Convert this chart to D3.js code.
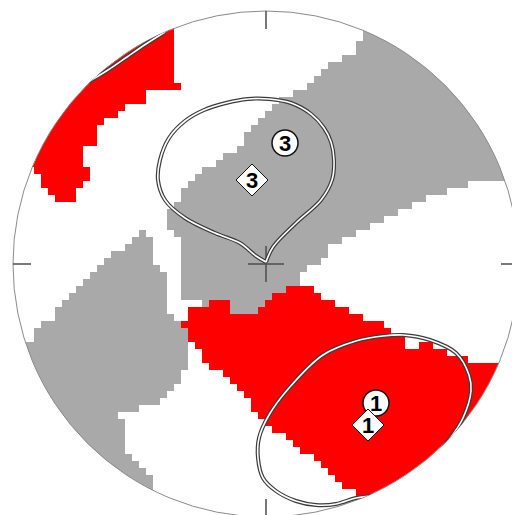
<!DOCTYPE html>
<html>
<head>
<meta charset="utf-8">
<script src="https://cdn.jsdelivr.net/npm/d3@7"></script>
<style>
  html, body { margin: 0; padding: 0; background: #fff; }
  svg { display: block; }
</style>
</head>
<body>
<div id="chart"></div>
<script>
// net coordinates: primitive circle radius R, x to the east, y to the north
const R = 253;
const CELL = 7;

// density zones (outline vertices, net units)
const redUpperLeft = [
  [-96,259],[-93,224],[-90,204],[-88,176],[-119,172],[-121,164],[-141,156],[-156,146],
  [-166,139],[-168,124],[-181,114],[-183,101],[-178,96],[-178,86],[-184,78],[-193,71],
  [-193,61],[-211,61],[-214,69],[-221,76],[-228,86],[-236,96],[-256,104],[-226,204],[-146,254]
];
const redLower = [
  [-71,-41],[-39,-38],[-34,-48],[-16,-54],[-8,-48],[0,-38],[12,-30],[22,-24],[43,-24],
  [47,-27],[52,-31],[62,-34],[68,-39],[75,-42],[80,-44],[90,-49],[98,-54],[105,-57],
  [113,-59],[118,-62],[127,-64],[127,-71],[137,-72],[137,-76],[142,-77],[142,-82],
  [153,-82],[162,-79],[170,-84],[175,-87],[187,-89],[193,-94],[203,-96],[217,-97],
  [220,-101],[233,-98],[254,-96],[134,-266],[92,-241],[90,-234],[87,-227],[73,-224],
  [72,-214],[62,-209],[57,-202],[52,-199],[45,-192],[38,-187],[33,-182],[25,-179],
  [20,-174],[13,-169],[8,-164],[0,-157],[-10,-149],[-14,-142],[-19,-134],[-31,-124],
  [-39,-116],[-49,-107],[-59,-99],[-66,-89],[-73,-82],[-81,-77],[-83,-61],[-78,-52]
];
const grayBand = [
  [96,244],[98,227],[90,221],[87,209],[70,204],[60,196],[50,187],[40,178],[28,169],
  [17,164],[7,154],[-3,149],[-10,137],[-23,127],[-26,117],[-38,109],[-49,101],[-59,97],
  [-68,91],[-76,82],[-85,67],[-96,54],[-96,31],[-89,27],[-84,21],[-86,8],[-88,6],
  [-88,-34],[-63,-34],[-63,-40],[-39,-38],[-34,-48],[-16,-54],[-8,-48],[0,-38],[12,-30],
  [22,-24],[33,-17],[33,-11],[43,-9],[45,-2],[52,1],[53,6],[62,8],[63,16],[70,19],
  [77,22],[83,26],[90,31],[97,34],[105,37],[110,42],[117,44],[123,49],[133,52],[140,57],
  [147,61],[157,64],[160,67],[170,71],[180,72],[187,77],[203,79],[207,82],[238,84],
  [264,89],[254,164],[174,264]
];
const grayLeft = [
  [-129,31],[-119,31],[-118,26],[-111,24],[-111,1],[-103,-1],[-103,-6],[-98,-9],
  [-98,-27],[-106,-27],[-106,-30],[-99,-31],[-99,-49],[-93,-51],[-89,-56],[-84,-61],
  [-81,-66],[-81,-81],[-76,-82],[-76,-102],[-81,-104],[-84,-114],[-88,-122],[-93,-124],
  [-93,-129],[-103,-131],[-104,-137],[-118,-141],[-121,-144],[-133,-146],[-136,-147],
  [-146,-149],[-146,-157],[-141,-159],[-141,-187],[-136,-191],[-134,-196],[-128,-197],
  [-126,-202],[-121,-204],[-119,-209],[-114,-211],[-114,-224],[-111,-266],[-266,-116],
  [-246,-81],[-236,-76],[-233,-69],[-223,-64],[-223,-59],[-214,-57],[-213,-49],[-206,-44],
  [-201,-37],[-198,-34],[-193,-26],[-188,-24],[-186,-19],[-181,-16],[-178,-11],[-173,-7],
  [-169,-1],[-164,3],[-161,6],[-151,11],[-143,16],[-141,21],[-133,26]
];

// confidence cones
const cone3 = [
  [0,2],[7,17],[30,41],[55,64],[66,84],[68,104],[65,122],[58,136],[45,150],[25,161],
  [3,165],[-18,165],[-40,161],[-62,154],[-81,143],[-97,126],[-106,104],[-108,84],
  [-101,64],[-81,46],[-51,31],[-26,21],[-10,8],[0,2]
];
const cone1 = [
  [137,-71],[164,-76],[190,-89],[203,-111],[205,-127],[197,-154],[183,-176],[165,-197],
  [142,-214],[114,-230],[90,-234],[70,-240],[50,-241],[30,-237],[10,-227],[-3,-214],
  [-8,-194],[-7,-174],[3,-151],[23,-124],[57,-91],[90,-77],[117,-72]
];
const cone1Wrap = [[-178,182],[-158,194],[-139,207],[-120,220],[-101,232]];

// mean directions
const meanLabels = ["3", "3", "1", "1"];
const meanKinds  = ["circle", "diamond", "circle", "diamond"];
const meanU = [19, -14, 110, 102];
const meanV = [121, 84, -139, -161];

const W = 512, H = 515, CX = 266, CY = 264;

const x = d3.scaleLinear().domain([-R, R]).range([CX - R, CX + R]);
const y = d3.scaleLinear().domain([-R, R]).range([CY + R, CY - R]);

const svg = d3.select("#chart").append("svg")
  .attr("width", W).attr("height", H);

svg.append("defs").append("clipPath").attr("id", "net")
  .append("circle")
  .attr("cx", x(0)).attr("cy", y(0)).attr("r", x(R) - x(0));

// raster the zones onto the grid
function cellsOf(poly) {
  const out = [];
  for (let gu = -R; gu < R; gu += CELL) {
    for (let gv = -R; gv < R; gv += CELL) {
      const cu = gu + CELL / 2, cv = gv + CELL / 2;
      if (Math.hypot(cu, cv) > R + CELL) continue;
      if (d3.polygonContains(poly, [cu, cv])) out.push([gu, gv]);
    }
  }
  return out;
}

const zones = svg.append("g").attr("clip-path", "url(#net)")
  .attr("shape-rendering", "crispEdges");

const layers = [
  { poly: redUpperLeft, color: "#ff0000" },
  { poly: redLower, color: "#ff0000" },
  { poly: grayBand, color: "#a9a9a9" },
  { poly: grayLeft, color: "#a9a9a9" }
];
layers.forEach(l => {
  zones.append("g").selectAll("rect")
    .data(cellsOf(l.poly))
    .join("rect")
    .attr("x", d => x(d[0]))
    .attr("y", d => y(d[1] + CELL))
    .attr("width", d => x(d[0] + CELL) - x(d[0]))
    .attr("height", d => y(d[1]) - y(d[1] + CELL))
    .attr("fill", l.color);
});

// primitive circle
svg.append("circle")
  .attr("cx", x(0)).attr("cy", y(0)).attr("r", x(R) - x(0))
  .attr("fill", "none").attr("stroke", "#8a8a8a").attr("stroke-width", 1);

// ticks + centre cross
const TICK = 18;
const tickG = svg.append("g").attr("stroke", "#4d4d4d").attr("stroke-width", 1.5);
[[0, 1], [1, 0], [0, -1], [-1, 0]].forEach(([a, b]) => {
  tickG.append("line")
    .attr("x1", x(a * R)).attr("y1", y(b * R))
    .attr("x2", x(a * (R - TICK))).attr("y2", y(b * (R - TICK)));
});
tickG.append("line").attr("x1", x(-TICK)).attr("y1", y(0)).attr("x2", x(TICK)).attr("y2", y(0));
tickG.append("line").attr("x1", x(0)).attr("y1", y(-TICK)).attr("x2", x(0)).attr("y2", y(TICK));

// cones (double line)
const lineOpen = d3.line().x(d => x(d[0])).y(d => y(d[1])).curve(d3.curveCatmullRom);
const lineClosed = d3.line().x(d => x(d[0])).y(d => y(d[1])).curve(d3.curveCatmullRomClosed);

const cones = svg.append("g").attr("clip-path", "url(#net)").attr("fill", "none");
function doubleLine(d) {
  cones.append("path").attr("d", d).attr("stroke", "#3c3c3c").attr("stroke-width", 4);
  cones.append("path").attr("d", d).attr("stroke", "#fff").attr("stroke-width", 1.6);
}
doubleLine(lineOpen(cone3));
doubleLine(lineClosed(cone1));
doubleLine(lineOpen(cone1Wrap));

// mean symbols
const means = meanLabels.map((t, i) => ({ t, kind: meanKinds[i], u: meanU[i], v: meanV[i] }));
const mg = svg.append("g");
const order = means.filter(d => d.kind === "circle").concat(means.filter(d => d.kind === "diamond"));
order.forEach(d => {
  const g = mg.append("g").attr("transform", `translate(${x(d.u)},${y(d.v)})`);
  if (d.kind === "circle") {
    g.append("circle").attr("r", 13)
      .attr("fill", "#fff").attr("stroke", "#111").attr("stroke-width", 1.5);
  } else {
    const s = 16;
    g.append("path").attr("d", `M0,${-s}L${s},0L0,${s}L${-s},0Z`)
      .attr("fill", "#fff").attr("stroke", "#111").attr("stroke-width", 1);
  }
  g.append("text")
    .attr("text-anchor", "middle")
    .attr("dy", "0.36em")
    .attr("font-family", "'Liberation Sans', Arial, sans-serif")
    .attr("font-weight", "bold")
    .attr("font-size", 22)
    .attr("fill", "#000")
    .text(d.t);
});
</script>
</body>
</html>
